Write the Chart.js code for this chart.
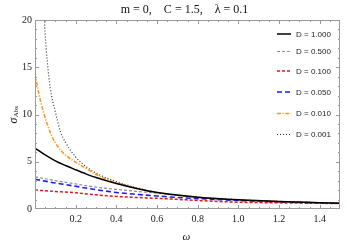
<!DOCTYPE html>
<html>
<head>
<meta charset="utf-8">
<script src="https://cdn.jsdelivr.net/npm/chart.js@4/dist/chart.umd.min.js"></script>
<style>
  body { margin: 0; background: #fff; }
  canvas { display: block; }
</style>
</head>
<body>
<canvas id="myChart" width="347" height="243"></canvas>
<script>
// omega grids
const omega = [0, 0.05, 0.1, 0.15, 0.2, 0.25, 0.3, 0.4, 0.5, 0.6, 0.7, 0.8, 1.0, 1.2, 1.5];
const omegaOrange = [0, 0.02, 0.04, 0.06, 0.08, 0.1, 0.125, 0.15, 0.2, 0.25, 0.3, 0.4, 0.5, 0.6, 0.8, 1.0, 1.2, 1.5];
const omegaDot = [0.04, 0.05, 0.06, 0.075, 0.1, 0.125, 0.15, 0.2, 0.25, 0.3, 0.4, 0.5, 0.6, 0.8, 1.0, 1.2, 1.5];

// sigma_Abs for each D
const sigD1000 = [6.45, 5.72, 5.1, 4.6, 4.15, 3.72, 3.33, 2.7, 2.18, 1.75, 1.47, 1.25, 0.97, 0.79, 0.62];
const sigD0500 = [3.4, 3.2, 3.0, 2.82, 2.65, 2.48, 2.32, 2.07, 1.87, 1.67, 1.46, 1.25, 0.97, 0.79, 0.62];
const sigD0100 = [2.0, 1.93, 1.85, 1.79, 1.72, 1.6, 1.5, 1.33, 1.22, 1.13, 1.02, 0.9, 0.72, 0.65, 0.58];
const sigD0050 = [3.15, 2.95, 2.75, 2.58, 2.4, 2.22, 2.05, 1.75, 1.55, 1.38, 1.22, 1.1, 0.9, 0.75, 0.6];
const sigD0010 = [14.3, 12.1, 10.4, 9.0, 7.85, 7.0, 6.25, 5.7, 4.95, 4.3, 3.65, 2.78, 2.2, 1.75, 1.25, 0.97, 0.79, 0.62];
const sigD0001 = [22.7, 18.5, 15.7, 12.8, 10.3, 8.2, 7.05, 5.5, 4.5, 3.8, 2.9, 2.25, 1.76, 1.25, 0.97, 0.79, 0.62];

const labels = ['D = 1.000', 'D = 0.500', 'D = 0.100', 'D = 0.050', 'D = 0.010', 'D = 0.001'];
const xTicks = [0.2, 0.4, 0.6, 0.8, 1.0, 1.2, 1.4];
const yTicks = [0, 5, 10, 15, 20];

const pts = (xs, ys) => xs.map((x, i) => ({x: x, y: ys[i]}));

function ds(label, xs, ys, color, width, dash){
  return {
    label: label,
    data: pts(xs, ys),
    borderColor: color,
    borderWidth: width,
    borderDash: dash,
    pointRadius: 0,
    fill: false,
    cubicInterpolationMode: 'monotone',
    clip: 0
  };
}

const frame = {
  id: 'frame',
  afterDraw(chart){
    const ctx = chart.ctx;
    const a = chart.chartArea;
    const xs = chart.scales.x, ys = chart.scales.y;
    ctx.save();
    ctx.strokeStyle = '#9a9a9a';
    ctx.lineWidth = 1;
    ctx.strokeRect(a.left + 0.5, a.top + 0.5, a.right - a.left - 1, a.bottom - a.top - 1);
    ctx.beginPath();
    // x ticks, major every 0.2, minor every 0.05
    for(let i = 1; i * 0.05 < 1.5; i++){
      const v = i * 0.05;
      const p = Math.round(xs.getPixelForValue(v)) + 0.5;
      const len = (i % 4 === 0) ? 4 : 2;
      ctx.moveTo(p, a.bottom); ctx.lineTo(p, a.bottom - len);
      ctx.moveTo(p, a.top); ctx.lineTo(p, a.top + len);
    }
    // y ticks, major every 5, minor every 1
    for(let v = 1; v < 20; v++){
      const p = Math.round(ys.getPixelForValue(v)) + 0.5;
      const len = (v % 5 === 0) ? 4 : 2;
      ctx.moveTo(a.left, p); ctx.lineTo(a.left + len, p);
      ctx.moveTo(a.right, p); ctx.lineTo(a.right - len, p);
    }
    ctx.stroke();

    // title
    ctx.fillStyle = '#111';
    ctx.font = '12px "Liberation Serif"';
    ctx.textAlign = 'center';
    ctx.textBaseline = 'middle';
    ctx.fillText('m = 0,    C = 1.5,    \u03bb = 0.1', (a.left + a.right) / 2 - 3, 10);

    // x axis title
    ctx.font = 'italic 11px "Liberation Serif"';
    ctx.fillText('\u03c9', (a.left + a.right) / 2 - 1, 237);

    // y axis title
    ctx.save();
    ctx.translate(14, 115);
    ctx.rotate(-Math.PI / 2);
    ctx.textAlign = 'left';
    ctx.font = 'italic 12px "Liberation Serif"';
    const w = ctx.measureText('\u03c3').width;
    ctx.font = '7px "Liberation Serif"';
    const w2 = ctx.measureText('Abs').width;
    const x0 = -(w + w2) / 2;
    ctx.font = 'italic 12px "Liberation Serif"';
    ctx.fillText('\u03c3', x0, 0);
    ctx.font = '7px "Liberation Serif"';
    ctx.fillText('Abs', x0 + w + 0.5, 2);
    ctx.restore();

    // legend
    const rows = [34, 51.5, 71, 92, 113.5, 134.5];
    ctx.font = '8px "Liberation Sans"';
    ctx.textAlign = 'left';
    chart.data.datasets.forEach((d, i) => {
      ctx.beginPath();
      ctx.strokeStyle = d.borderColor;
      ctx.lineWidth = d.borderWidth;
      ctx.setLineDash(d.borderDash || []);
      ctx.moveTo(277, rows[i]);
      ctx.lineTo(291, rows[i]);
      ctx.stroke();
      ctx.setLineDash([]);
      ctx.fillStyle = '#222';
      ctx.fillText(d.label, 296, rows[i] + 0.5);
    });
    ctx.restore();
  }
};

new Chart('myChart', {
  type: 'line',
  data: {
    datasets: [
      ds(labels[0], omega, sigD1000, '#000000', 1.5, []),
      ds(labels[1], omega, sigD0500, '#8c8c8c', 1.2, [3, 2]),
      ds(labels[2], omega, sigD0100, '#e8141a', 1.5, [3, 2]),
      ds(labels[3], omega, sigD0050, '#1a1aff', 1.6, [5, 3]),
      ds(labels[4], omegaOrange, sigD0010, '#ff9419', 1.5, [4, 1.5, 1.2, 1.5]),
      ds(labels[5], omegaDot, sigD0001, '#333333', 1.2, [1, 2])
    ]
  },
  options: {
    responsive: false,
    animation: false,
    layout: { padding: { top: 20, right: 7, left: 0, bottom: 0 } },
    plugins: {
      legend: { display: false },
      tooltip: { enabled: false }
    },
    scales: {
      x: {
        type: 'linear',
        min: 0,
        max: 1.5,
        afterFit(s){ s.height = 34; },
        afterBuildTicks(s){ s.ticks = xTicks.map(v => ({value: v})); },
        grid: { display: false, drawTicks: false },
        border: { display: false },
        ticks: {
          color: '#222',
          padding: 4,
          maxRotation: 0,
          font: { family: 'Liberation Serif', size: 10 },
          callback: v => v.toFixed(1)
        }
      },
      y: {
        type: 'linear',
        min: 0,
        max: 20,
        afterFit(s){ s.width = 35; },
        afterBuildTicks(s){ s.ticks = yTicks.map(v => ({value: v})); },
        grid: { display: false, drawTicks: false },
        border: { display: false },
        ticks: {
          color: '#222',
          padding: 3,
          font: { family: 'Liberation Serif', size: 10 }
        }
      }
    }
  },
  plugins: [frame]
});
</script>
</body>
</html>
